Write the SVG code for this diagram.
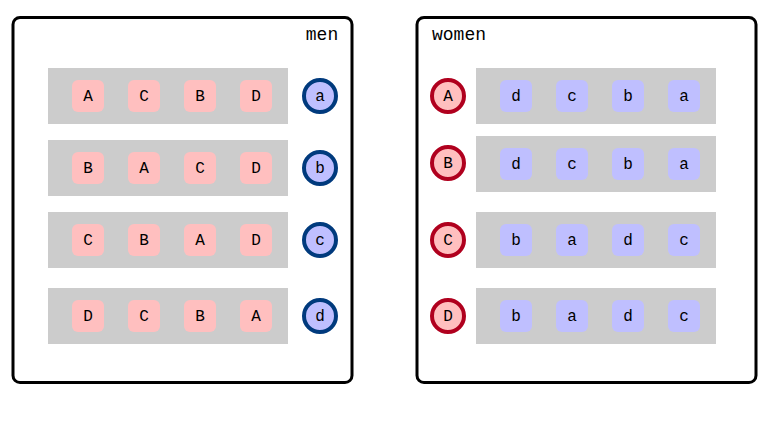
<svg xmlns="http://www.w3.org/2000/svg" width="768" height="432" viewBox="0 0 768 432">
<style>
.panel{fill:#fff;stroke:#000;stroke-width:3}
.row{fill:#cccccc}
.m{fill:#ffbfbf}
.w{fill:#bfbfff}
.mc{fill:#bfbfff;stroke:#003a7d;stroke-width:4}
.wc{fill:#ffbfbf;stroke:#b0001e;stroke-width:4}
text{font-family:"Liberation Mono","Courier New",monospace;font-size:16px;fill:#000;text-anchor:middle;dominant-baseline:central}
.title{font-size:18px;dominant-baseline:auto}
</style>
<rect width="768" height="432" fill="#fff"/>
<g id="men">
<rect class="panel" x="13" y="17.5" width="339" height="365" rx="7"/>
<text class="title" x="322" y="40">men</text>
</g>
<g id="women">
<rect class="panel" x="417" y="17.5" width="339" height="365" rx="7"/>
<text class="title" x="459" y="40">women</text>
</g>
<g id="men-rows">
<g id="row-a">
<rect class="row" x="48" y="68" width="240" height="56"/>
<rect class="m" x="72" y="80" width="32" height="32" rx="6"/><text x="88" y="97">A</text>
<rect class="m" x="128" y="80" width="32" height="32" rx="6"/><text x="144" y="97">C</text>
<rect class="m" x="184" y="80" width="32" height="32" rx="6"/><text x="200" y="97">B</text>
<rect class="m" x="240" y="80" width="32" height="32" rx="6"/><text x="256" y="97">D</text>
</g>
<g id="row-b">
<rect class="row" x="48" y="140" width="240" height="56"/>
<rect class="m" x="72" y="152" width="32" height="32" rx="6"/><text x="88" y="169">B</text>
<rect class="m" x="128" y="152" width="32" height="32" rx="6"/><text x="144" y="169">A</text>
<rect class="m" x="184" y="152" width="32" height="32" rx="6"/><text x="200" y="169">C</text>
<rect class="m" x="240" y="152" width="32" height="32" rx="6"/><text x="256" y="169">D</text>
</g>
<g id="row-c">
<rect class="row" x="48" y="212" width="240" height="56"/>
<rect class="m" x="72" y="224" width="32" height="32" rx="6"/><text x="88" y="241">C</text>
<rect class="m" x="128" y="224" width="32" height="32" rx="6"/><text x="144" y="241">B</text>
<rect class="m" x="184" y="224" width="32" height="32" rx="6"/><text x="200" y="241">A</text>
<rect class="m" x="240" y="224" width="32" height="32" rx="6"/><text x="256" y="241">D</text>
</g>
<g id="row-d">
<rect class="row" x="48" y="288" width="240" height="56"/>
<rect class="m" x="72" y="300" width="32" height="32" rx="6"/><text x="88" y="317">D</text>
<rect class="m" x="128" y="300" width="32" height="32" rx="6"/><text x="144" y="317">C</text>
<rect class="m" x="184" y="300" width="32" height="32" rx="6"/><text x="200" y="317">B</text>
<rect class="m" x="240" y="300" width="32" height="32" rx="6"/><text x="256" y="317">A</text>
</g>
</g>
<g id="men-nodes">
<g id="man-a"><circle class="mc" cx="320" cy="96" r="16"/><text x="320" y="97">a</text></g>
<g id="man-b"><circle class="mc" cx="320" cy="168" r="16"/><text x="320" y="169">b</text></g>
<g id="man-c"><circle class="mc" cx="320" cy="240" r="16"/><text x="320" y="241">c</text></g>
<g id="man-d"><circle class="mc" cx="320" cy="316" r="16"/><text x="320" y="317">d</text></g>
</g>
<g id="women-rows">
<g id="row-A">
<rect class="row" x="476" y="68" width="240" height="56"/>
<rect class="w" x="500" y="80" width="32" height="32" rx="6"/><text x="516" y="97">d</text>
<rect class="w" x="556" y="80" width="32" height="32" rx="6"/><text x="572" y="97">c</text>
<rect class="w" x="612" y="80" width="32" height="32" rx="6"/><text x="628" y="97">b</text>
<rect class="w" x="668" y="80" width="32" height="32" rx="6"/><text x="684" y="97">a</text>
</g>
<g id="row-B">
<rect class="row" x="476" y="136" width="240" height="56"/>
<rect class="w" x="500" y="148" width="32" height="32" rx="6"/><text x="516" y="165">d</text>
<rect class="w" x="556" y="148" width="32" height="32" rx="6"/><text x="572" y="165">c</text>
<rect class="w" x="612" y="148" width="32" height="32" rx="6"/><text x="628" y="165">b</text>
<rect class="w" x="668" y="148" width="32" height="32" rx="6"/><text x="684" y="165">a</text>
</g>
<g id="row-C">
<rect class="row" x="476" y="212" width="240" height="56"/>
<rect class="w" x="500" y="224" width="32" height="32" rx="6"/><text x="516" y="241">b</text>
<rect class="w" x="556" y="224" width="32" height="32" rx="6"/><text x="572" y="241">a</text>
<rect class="w" x="612" y="224" width="32" height="32" rx="6"/><text x="628" y="241">d</text>
<rect class="w" x="668" y="224" width="32" height="32" rx="6"/><text x="684" y="241">c</text>
</g>
<g id="row-D">
<rect class="row" x="476" y="288" width="240" height="56"/>
<rect class="w" x="500" y="300" width="32" height="32" rx="6"/><text x="516" y="317">b</text>
<rect class="w" x="556" y="300" width="32" height="32" rx="6"/><text x="572" y="317">a</text>
<rect class="w" x="612" y="300" width="32" height="32" rx="6"/><text x="628" y="317">d</text>
<rect class="w" x="668" y="300" width="32" height="32" rx="6"/><text x="684" y="317">c</text>
</g>
</g>
<g id="women-nodes">
<g id="woman-A"><circle class="wc" cx="448" cy="96" r="16"/><text x="448" y="97">A</text></g>
<g id="woman-B"><circle class="wc" cx="448" cy="163" r="16"/><text x="448" y="164">B</text></g>
<g id="woman-C"><circle class="wc" cx="448" cy="240" r="16"/><text x="448" y="241">C</text></g>
<g id="woman-D"><circle class="wc" cx="448" cy="316" r="16"/><text x="448" y="317">D</text></g>
</g>
<g id="connectors"/>
</svg>
